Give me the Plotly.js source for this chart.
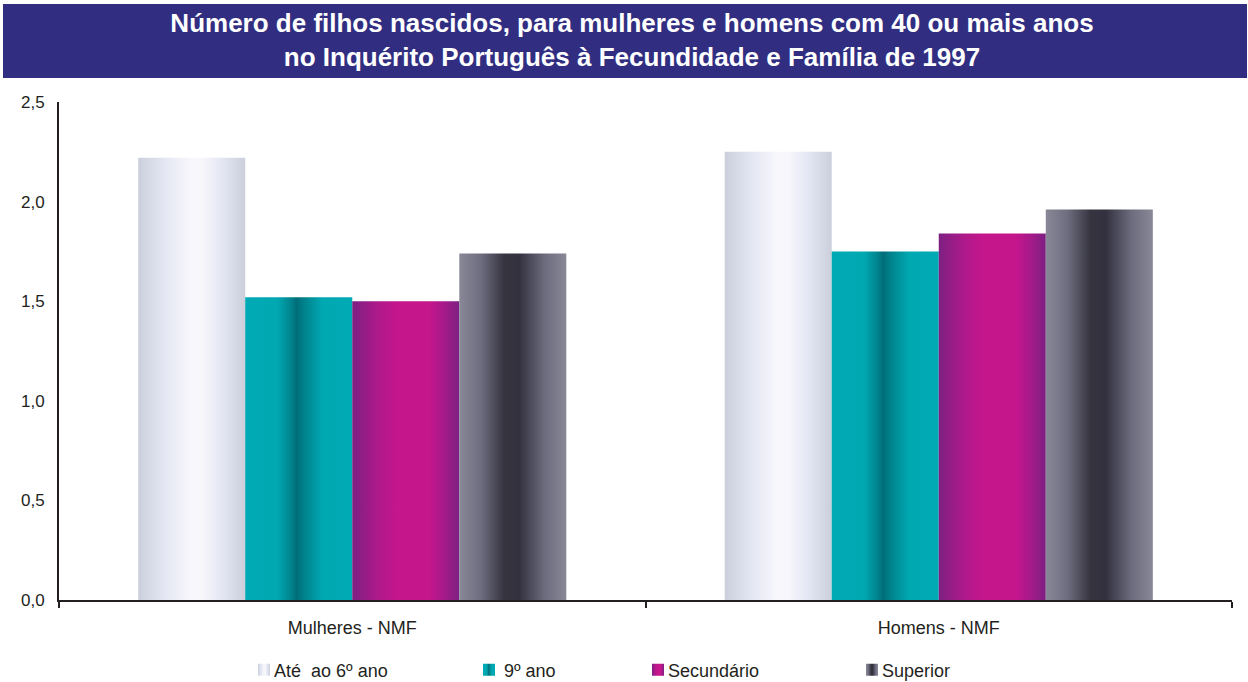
<!DOCTYPE html>
<html>
<head>
<meta charset="utf-8">
<script src="https://cdn.plot.ly/plotly-3.0.1.min.js"></script>
<style>
html,body{margin:0;padding:0;background:#fff;}
#chart{width:1248px;height:682px;}
</style>
</head>
<body>
<div id="chart"></div>
<script>
// ---- data ----
const categories = ["Mulheres - NMF", "Homens - NMF"];
const seriesNames = ["Até\u00A0 ao 6º ano", "\u00A09º ano", "Secundário", "Superior"];
const ateAo6 = [2.22, 2.25];
const nono = [1.52, 1.75];
const secundario = [1.50, 1.84];
const superior = [1.74, 1.96];
const yTicks = [0, 0.5, 1.0, 1.5, 2.0, 2.5];
const titleText = "Número de filhos nascidos, para mulheres e homens com 40 ou mais anos<br>no Inquérito Português à Fecundidade e Família de 1997";

// ---- styles ----
const baseColors = ["#E6E8F4", "#00A0AA", "#C2168C", "#55546A"];
const gradients = [
  [[0,"#CBCFDC"],[0.25,"#E4E6F3"],[0.5,"#F8F8FC"],[0.6,"#F6F6FB"],[0.78,"#E4E6F3"],[1,"#CBCFDC"]],
  [[0,"#00AAB4"],[0.3,"#00A8B2"],[0.42,"#008690"],[0.48,"#006E79"],[0.56,"#00848E"],[0.72,"#00A8B2"],[1,"#00AAB4"]],
  [[0,"#7D2082"],[0.25,"#B0198A"],[0.42,"#C5168C"],[0.72,"#C5168C"],[0.86,"#A51A89"],[1,"#7D2082"]],
  [[0,"#888898"],[0.2,"#6E6E80"],[0.42,"#36343F"],[0.56,"#33313F"],[0.8,"#6C6C7E"],[1,"#888898"]]
];
const legendX = [258, 483, 652, 866];
const FONT = "Liberation Sans, Arial, sans-serif";

const allValues = [ateAo6, nono, secundario, superior];
const legendIds = allValues.map((v, i) => i === 0 ? "legend" : "legend" + (i + 1));
const traces = allValues.map((vals, i) => ({
  type: "bar",
  x: categories,
  y: vals,
  name: seriesNames[i],
  marker: {color: baseColors[i], line: {width: 0}},
  legend: legendIds[i],
  hoverinfo: "skip"
}));

const W = 1248, H = 682;
const L = 59, R = 1232, T = 102, B = 600;
const layout = {
  width: W, height: H,
  margin: {l: L, r: W - R, t: T, b: H - B, pad: 0},
  paper_bgcolor: "#ffffff",
  plot_bgcolor: "#ffffff",
  font: {family: FONT, size: 18, color: "#231F20"},
  separators: ",.",
  barmode: "group",
  bargap: 0.27,
  bargroupgap: 0,
  title: {
    text: titleText,
    font: {family: FONT, size: 26, color: "#ffffff", weight: "bold"},
    x: 632 / W, xanchor: "center", xref: "container",
    y: 1 - 32 / H, yanchor: "middle", yref: "container"
  },
  shapes: [{
    type: "rect", xref: "paper", yref: "paper", layer: "below",
    x0: (3 - L) / (R - L), x1: (1247 - L) / (R - L),
    y0: (B - 78) / (B - T), y1: (B - 4) / (B - T),
    fillcolor: "#312E82", line: {width: 0}
  }],
  xaxis: {
    type: "category",
    showline: true, linecolor: "#231F20", linewidth: 2,
    ticks: "outside", tickson: "boundaries", ticklen: 6, tickwidth: 2, tickcolor: "#231F20",
    showgrid: false, zeroline: false,
    tickfont: {family: FONT, size: 18, color: "#231F20"},
    ticklabelstandoff: 10,
    fixedrange: true
  },
  yaxis: {
    range: [0, 2.5],
    tickvals: yTicks,
    tickformat: ".1f",
    showline: true, linecolor: "#231F20", linewidth: 2,
    ticks: "", showgrid: false, zeroline: false,
    tickfont: {family: FONT, size: 17, color: "#231F20"},
    ticklabelstandoff: 9,
    fixedrange: true
  },
  showlegend: true
};
legendIds.forEach((key, i) => {
  layout[key] = {
    orientation: "h",
    xref: "container", yref: "container",
    x: (legendX[i] - 14) / W, xanchor: "left",
    y: 1 - 670 / H, yanchor: "middle",
    font: {family: FONT, size: 18, color: "#231F20"},
    bgcolor: "rgba(0,0,0,0)", borderwidth: 0
  };
});

const gd = document.getElementById("chart");
function restyleDom() {
  const svgNS = "http://www.w3.org/2000/svg";
  const svg = gd.querySelector("svg.main-svg");
  let defs = svg.querySelector("defs");
  if (!defs) { defs = document.createElementNS(svgNS, "defs"); svg.insertBefore(defs, svg.firstChild); }
  gradients.forEach((stops, i) => {
    if (document.getElementById("barGrad" + i)) return;
    const lg = document.createElementNS(svgNS, "linearGradient");
    lg.setAttribute("id", "barGrad" + i);
    lg.setAttribute("x1", "0"); lg.setAttribute("x2", "1");
    lg.setAttribute("y1", "0"); lg.setAttribute("y2", "0");
    stops.forEach(([o, c]) => {
      const s = document.createElementNS(svgNS, "stop");
      s.setAttribute("offset", o);
      s.setAttribute("stop-color", c);
      lg.appendChild(s);
    });
    defs.appendChild(lg);
  });
  gd.querySelectorAll(".barlayer .trace").forEach((tr, i) => {
    tr.querySelectorAll("path").forEach(p => { p.style.fill = "url(#barGrad" + i + ")"; });
  });
  legendIds.forEach((id, i) => {
    const lg = gd.querySelector("g." + id);
    if (!lg) return;
    lg.querySelectorAll(".legendpoints path").forEach(p => { p.style.fill = "url(#barGrad" + i + ")"; });
    lg.querySelectorAll("g.traces > text").forEach(tx => { tx.setAttribute("x", 30); });
  });
}
Plotly.newPlot(gd, traces, layout, {displayModeBar: false, staticPlot: true}).then(() => {
  restyleDom();
  setTimeout(restyleDom, 50);
  setTimeout(restyleDom, 300);
});
</script>
</body>
</html>
